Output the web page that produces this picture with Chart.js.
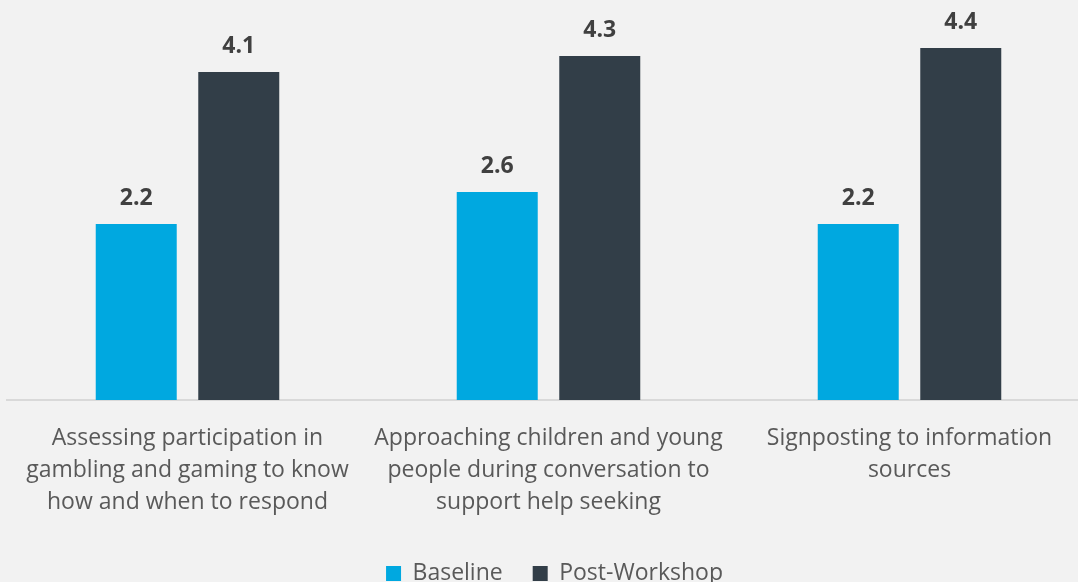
<!DOCTYPE html>
<html>
<head>
<meta charset="utf-8">
<script src="https://cdn.jsdelivr.net/npm/chart.js@4.4.1/dist/chart.umd.min.js"></script>
<style>
  html, body { margin: 0; padding: 0; background: #f2f2f2; overflow: hidden; }
  #wrap { width: 1112px; height: 595px; }
</style>
</head>
<body>
<div id="wrap"><canvas id="chart" width="1112" height="595"></canvas></div>
<script>
// Confidence ratings before and after the workshop
const categories = [
  ["Assessing participation in", "gambling and gaming to know", "how and when to respond"],
  ["Approaching children and young", "people during conversation to", "support help seeking"],
  ["Signposting to information", "sources"]
];
const baseline = [2.2, 2.6, 2.2];
const postWorkshop = [4.1, 4.3, 4.4];
const seriesNames = ["Baseline", "Post-Workshop"];

const FONT = "'Open Sans', 'Noto Sans', sans-serif";

// Bold value printed above every bar
const valueLabels = {
  id: 'valueLabels',
  afterDatasetsDraw(chart) {
    const ctx = chart.ctx;
    ctx.save();
    ctx.font = "bold 23px " + FONT;
    ctx.fillStyle = '#404040';
    ctx.textAlign = 'center';
    ctx.textBaseline = 'alphabetic';
    chart.data.datasets.forEach((ds, i) => {
      chart.getDatasetMeta(i).data.forEach((bar, j) => {
        ctx.fillText(ds.data[j].toFixed(1), bar.x, bar.y - 19);
      });
    });
    ctx.restore();
  }
};

// Nudge the legend block a little to the right of centre
const legendOffset = {
  id: 'legendOffset',
  afterLayout(chart) {
    if (chart.legend) {
      chart.legend.left += 6;
      chart.legend.right += 6;
    }
  }
};

new Chart(document.getElementById('chart'), {
  type: 'bar',
  data: {
    labels: categories,
    datasets: [
      { label: seriesNames[0], data: baseline, backgroundColor: '#00a8e0' },
      { label: seriesNames[1], data: postWorkshop, backgroundColor: '#323e48' }
    ]
  },
  options: {
    responsive: false,
    animation: false,
    devicePixelRatio: 1,
    categoryPercentage: 0.568,
    barPercentage: 0.79,
    layout: { padding: { left: 7, right: 22, top: 0, bottom: 0 } },
    scales: {
      y: { display: false, min: 0, max: 5 },
      x: {
        grid: { display: false },
        border: { display: true, color: '#d9d9d9', width: 2 },
        ticks: {
          color: '#595959',
          font: { family: FONT, size: 23, lineHeight: 1.39 },
          maxRotation: 0,
          autoSkip: false,
          padding: 14
        }
      }
    },
    plugins: {
      legend: {
        position: 'bottom',
        labels: {
          color: '#595959',
          font: { family: FONT, size: 23 },
          boxWidth: 15,
          boxHeight: 15,
          padding: 30
        }
      },
      tooltip: { enabled: false }
    }
  },
  plugins: [valueLabels, legendOffset]
});
</script>
</body>
</html>
